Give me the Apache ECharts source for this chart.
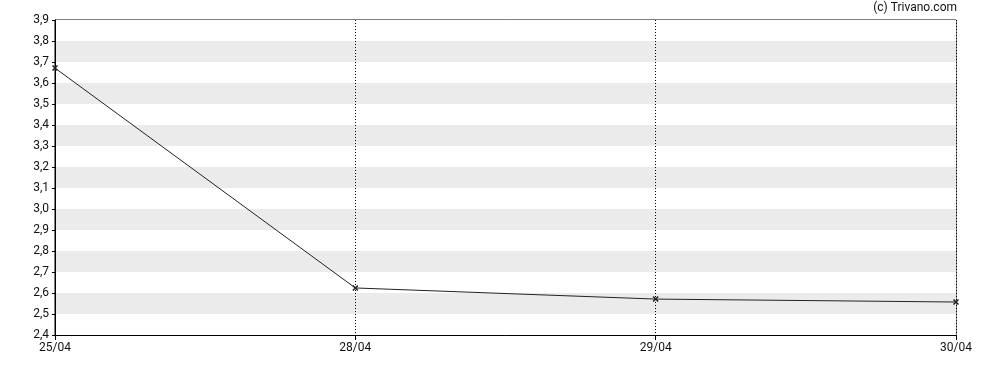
<!DOCTYPE html>
<html>
<head>
<meta charset="utf-8">
<script src="https://cdn.jsdelivr.net/npm/echarts@6/dist/echarts.min.js"></script>
<style>html,body{margin:0;padding:0;background:#fff}#c{width:988px;height:370px}</style>
</head>
<body>
<div id="c"></div>
<script>
var categories = ['25/04', '28/04', '29/04', '30/04'];
var values = [3.671, 2.624, 2.571, 2.557];
var yMin = 2.4, yMax = 3.9, yStep = 0.1;

var chart = echarts.init(document.getElementById('c'), null, {renderer: 'canvas'});
var xPath = 'path://M0,0L10,10M10,0L0,10';
chart.setOption({
  animation: false,
  backgroundColor: '#fff',
  textStyle: {fontFamily: 'Roboto'},
  graphic: [{
    type: 'text', right: 31, top: 2,
    style: {text: '(c) Trivano.com', font: '12px Roboto', fill: '#111'}
  }],
  grid: {left: 55, right: 32, top: 20, bottom: 35, show: true, borderColor: '#000', borderWidth: 1, backgroundColor: 'transparent'},
  xAxis: {
    type: 'category', data: categories, boundaryGap: false,
    axisLine: {lineStyle: {color: '#000', width: 1}},
    axisTick: {show: true, length: 5, lineStyle: {color: '#000'}},
    axisLabel: {color: '#111', fontSize: 12, fontFamily: 'Roboto', margin: 7},
    splitLine: {show: true, lineStyle: {color: '#000', type: [1, 2], width: 1}}
  },
  yAxis: {
    type: 'value', min: yMin, max: yMax, interval: yStep,
    axisLine: {show: true, lineStyle: {color: '#000'}},
    axisTick: {show: true, length: 3, lineStyle: {color: '#000'}},
    axisLabel: {color: '#111', fontSize: 12, fontFamily: 'Roboto', margin: 6,
      formatter: function (v) { return v.toFixed(1).replace('.', ','); }},
    splitLine: {show: false},
    splitArea: {show: true, areaStyle: {color: ['#ffffff', '#ebebeb']}}
  },
  series: [{
    type: 'line', data: values,
    lineStyle: {color: '#222', width: 1},
    itemStyle: {color: '#222', borderColor: '#222', borderWidth: 1.5},
    symbol: xPath, symbolSize: 5, showSymbol: true
  }]
});
</script>
</body>
</html>
